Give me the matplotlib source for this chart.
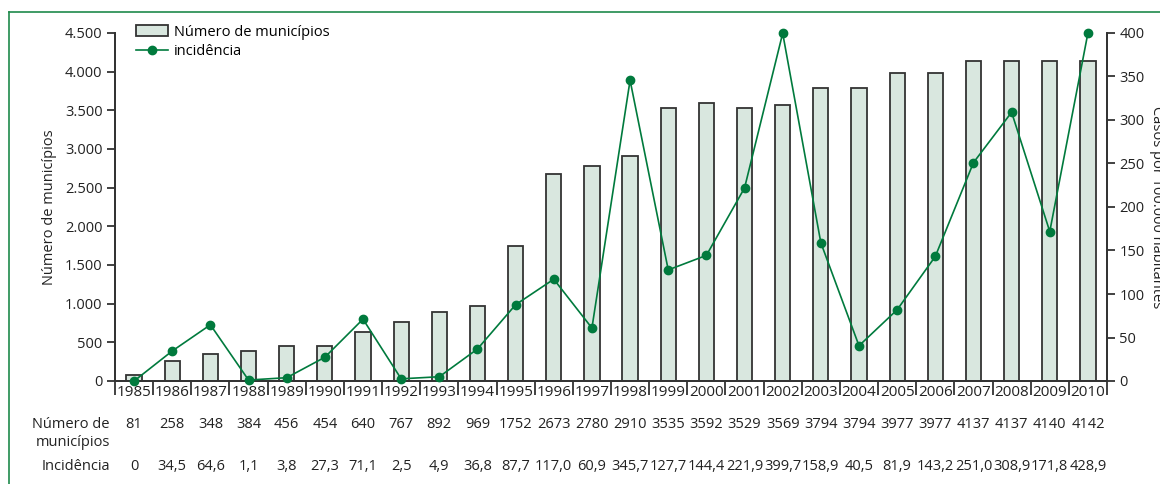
import matplotlib.pyplot as plt
import matplotlib
import numpy as np
from matplotlib.ticker import FuncFormatter, FixedLocator
from matplotlib.lines import Line2D

plt.rcParams['font.family'] = ['Open Sans', 'DejaVu Sans']

# data
years = list(range(1985, 2011))
municipios = [81, 258, 348, 384, 456, 454, 640, 767, 892, 969, 1752, 2673, 2780,
              2910, 3535, 3592, 3529, 3569, 3794, 3794, 3977, 3977, 4137, 4137, 4140, 4142]
incid_labels = ['0', '34,5', '64,6', '1,1', '3,8', '27,3', '71,1', '2,5', '4,9', '36,8',
                '87,7', '117,0', '60,9', '345,7', '127,7', '144,4', '221,9', '399,7',
                '158,9', '40,5', '81,9', '143,2', '251,0', '308,9', '171,8', '428,9']
# values as drawn (last point sits on the top of the axis)
incid_plot = [0, 34.5, 64.6, 1.1, 3.8, 27.3, 71.1, 2.5, 4.9, 36.8, 87.7, 117.0, 60.9,
              345.7, 127.7, 144.4, 221.9, 399.7, 158.9, 40.5, 81.9, 143.2, 251.0,
              308.9, 171.8, 400.0]

green = '#007a3d'
bar_fill = '#d9e7df'
dark = '#333333'
txt = '#222222'

fig = plt.figure(figsize=(11.6, 4.84), dpi=100)
ax = fig.add_axes([115/1160, 1-381/484, (1107-115)/1160, (381-33)/484])
ax2 = ax.twinx()

x = np.arange(len(years))
bars = ax.bar(x, municipios, width=0.4, color=bar_fill, edgecolor=dark, linewidth=1.3,
              label='Número de municípios', zorder=2)
line, = ax2.plot(x, incid_plot, color=green, lw=1.2, marker='o', ms=6, clip_on=False,
                 label='incidência', zorder=3)

ax.set_xlim(-0.5, len(years)-0.5)
ax.set_ylim(0, 4500)
ax2.set_ylim(0, 400)

ax.set_yticks(np.arange(0, 4501, 500))
ax.yaxis.set_major_formatter(FuncFormatter(lambda v, p: f'{int(v):,}'.replace(',', '.')))
ax2.set_yticks(np.arange(0, 401, 50))

ax.xaxis.set_major_locator(FixedLocator(np.arange(-0.5, len(years), 1.0)))
ax.xaxis.set_major_formatter(FuncFormatter(lambda v, p: ''))
ax.xaxis.set_minor_locator(FixedLocator(x))
ax.set_xticklabels([str(y) for y in years], minor=True)
ax.tick_params(axis='x', which='major', length=10, width=1.3, color=dark, direction='out')
ax.tick_params(axis='x', which='minor', length=0, pad=3, labelsize=11, labelcolor=txt)
ax.tick_params(axis='y', length=6, width=1.3, color=dark, labelsize=10.5, labelcolor=txt, pad=3)
ax2.tick_params(axis='y', length=6, width=1.3, color=dark, labelsize=10.5, labelcolor=txt, pad=3)

for a in (ax, ax2):
    a.spines['top'].set_visible(False)
    for s in ('left', 'right', 'bottom'):
        a.spines[s].set_linewidth(1.3)
        a.spines[s].set_color(dark)

ax.set_ylabel('Número de municípios', fontsize=10.5, color=txt, labelpad=6)
ax2.set_ylabel('Casos por 100.000 habitantes', fontsize=10.5, color=txt,
               rotation=270, labelpad=14)

# table below the axis
tr = matplotlib.transforms.blended_transform_factory(ax.transData, fig.transFigure)
for i in x:
    ax.text(i, 1-424/484, str(municipios[i]), transform=tr, ha='center', va='center',
            fontsize=10.5, color=txt)
    ax.text(i, 1-467/484, incid_labels[i], transform=tr, ha='center', va='center',
            fontsize=10.5, color=txt)
fig.text(110/1160, 1-424/484, 'Número de', ha='right', va='center', fontsize=10.5, color=txt)
fig.text(110/1160, 1-443/484, 'municípios', ha='right', va='center', fontsize=10.5, color=txt)
fig.text(110/1160, 1-467/484, 'Incidência', ha='right', va='center', fontsize=10.5, color=txt)

ax.legend([bars, line], ['Número de municípios', 'incidência'], loc='upper left',
          bbox_to_anchor=(0.015, 1.04), frameon=False, fontsize=10.5, handlelength=2.2,
          handleheight=0.8, handletextpad=0.4, labelspacing=0.3, borderaxespad=0)

# green frame
fig.add_artist(Line2D([9/1160, 9/1160], [0, 1-12/484], transform=fig.transFigure,
                      color='#1f8a4c', lw=1.2))
fig.add_artist(Line2D([9/1160, 1], [1-12/484, 1-12/484], transform=fig.transFigure,
                      color='#1f8a4c', lw=1.2))

fig.savefig('out.png', dpi=100)
